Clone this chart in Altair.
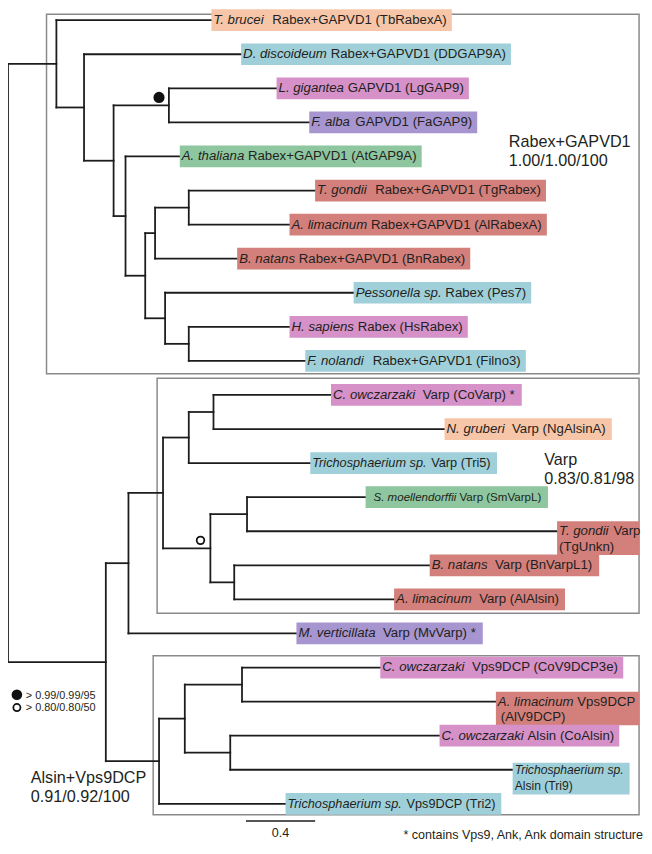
import altair as alt
import pandas as pd

# ---------------- data ----------------
# leaves, top to bottom
leaf_species = ["T. brucei", "D. discoideum", "L. gigantea", "F. alba", "A. thaliana",
                "T. gondii", "A. limacinum", "B. natans", "Pessonella sp.", "H. sapiens",
                "F. nolandi", "C. owczarzaki", "N. gruberi", "Trichosphaerium sp.",
                "S. moellendorffii", "T. gondii", "B. natans", "A. limacinum",
                "M. verticillata", "C. owczarzaki", "A. limacinum", "C. owczarzaki",
                "Trichosphaerium sp.", "Trichosphaerium sp."]
leaf_gene = ["Rabex+GAPVD1 (TbRabexA)", "Rabex+GAPVD1 (DDGAP9A)", "GAPVD1 (LgGAP9)",
             "GAPVD1 (FaGAP9)", "Rabex+GAPVD1 (AtGAP9A)", "Rabex+GAPVD1 (TgRabex)",
             "Rabex+GAPVD1 (AlRabexA)", "Rabex+GAPVD1 (BnRabex)", "Rabex (Pes7)",
             "Rabex (HsRabex)", "Rabex+GAPVD1 (Filno3)", "Varp (CoVarp) *", "Varp (NgAlsinA)",
             "Varp (Tri5)", "Varp (SmVarpL)", "Varp", "Varp (BnVarpL1)", "Varp (AlAlsin)",
             "Varp (MvVarp) *", "Vps9DCP (CoV9DCP3e)", "Vps9DCP", "Alsin (CoAlsin)", "",
             "Vps9DCP (Tri2)"]
leaf_gene_line2 = [""] * 15 + ["(TgUnkn)"] + [""] * 4 + ["(AlV9DCP)", "", "Alsin (Tri9)", ""]
leaf_group = ["Discoba", "Amoebozoa", "Holozoa", "Holomycota", "Archaeplastida",
              "SAR", "SAR", "SAR", "Amoebozoa", "Holozoa", "Amoebozoa",
              "Holozoa", "Discoba", "Amoebozoa", "Archaeplastida", "SAR", "SAR", "SAR",
              "Holomycota", "Holozoa", "SAR", "Holozoa", "Amoebozoa", "Amoebozoa"]
leaf_parent = ["A", "B", "D", "D", "E", "H", "H", "G", "I", "J", "J",
               "O", "O", "N", "Q", "Q", "R", "R", "L", "U", "U", "V", "V", "S"]
# distance from root (substitutions / site)
leaf_depth = [1.177, 1.349, 1.554, 1.743, 0.994, 1.777, 1.629, 1.326, 2.000, 1.629, 1.720,
              1.869, 2.526, 1.749, 2.069, 3.177, 2.440, 2.234, 1.669, 2.154, 2.823, 2.497,
              2.920, 1.606]

# internal nodes
node_names = ["root", "A", "B", "C", "D", "E", "F", "G", "H", "I", "J",
              "K", "L", "M", "N", "O", "P", "Q", "R", "S", "T", "U", "V"]
node_parent = [None, "root", "A", "B", "C", "C", "E", "F", "G", "F", "I",
               "root", "K", "L", "M", "N", "M", "P", "P", "K", "S", "T", "T"]
node_depth = [0.0, 0.280, 0.440, 0.611, 0.931, 0.680, 0.794, 0.851, 1.046, 0.909, 1.046,
              0.566, 0.697, 0.897, 1.046, 1.189, 1.171, 1.383, 1.309, 0.874, 1.023, 1.354, 1.286]

# support symbols
support_nodes = ["D", "P"]
support_level = ["> 0.99/0.99/95", "> 0.80/0.80/50"]

# clades
clade_names = ["Rabex+GAPVD1", "Varp", "Alsin+Vps9DCP"]
clade_support = ["1.00/1.00/100", "0.83/0.81/98", "0.91/0.92/100"]

group_domain = ["Discoba", "Amoebozoa", "Holozoa", "Holomycota", "Archaeplastida", "SAR"]
group_colors = ["#f7c6a9", "#9fd0da", "#d591c8", "#a795d0", "#8ec69f", "#d3807c"]

scale_bar_length = 0.4
footnote = "* contains Vps9, Ank, Ank domain structure"

# ---------------- layout helpers ----------------
W, H = 644, 846
PX = 175.0          # pixels per substitution unit
ROW = 34.5          # pixels per leaf row
Y0 = 7.0            # plot y of first leaf
FONT = "Liberation Sans"
INK = "#231f20"

XS = alt.Scale(domain=[0, W / PX], nice=False, zero=False)
YS = alt.Scale(domain=[-Y0 / ROW, (H - Y0) / ROW], nice=False, zero=False, reverse=True)

HELV = {' ': 278, '!': 278, '(': 333, ')': 333, '*': 389, '+': 584, ',': 278, '-': 333,
        '.': 278, '/': 278, '>': 584,
        'A': 667, 'B': 667, 'C': 722, 'D': 722, 'E': 667, 'F': 611, 'G': 778, 'H': 722,
        'I': 278, 'J': 500, 'K': 667, 'L': 556, 'M': 833, 'N': 722, 'O': 778, 'P': 667,
        'Q': 778, 'R': 722, 'S': 667, 'T': 611, 'U': 722, 'V': 667, 'W': 944, 'X': 667,
        'Y': 667, 'Z': 611,
        'a': 556, 'b': 556, 'c': 500, 'd': 556, 'e': 556, 'f': 278, 'g': 556, 'h': 556,
        'i': 222, 'j': 222, 'k': 500, 'l': 222, 'm': 833, 'n': 556, 'o': 556, 'p': 556,
        'q': 556, 'r': 333, 's': 500, 't': 278, 'u': 556, 'v': 500, 'w': 722, 'x': 500,
        'y': 500, 'z': 500}


def tw(s, fs):
    return sum(HELV.get(c, 556) for c in s) * fs / 1000.0


# per-label styling
font_size = {13: 12.9, 14: 11.7, 22: 12.3, 23: 12.9}
lead_px = {14: 8}
wide_gap = {0, 5, 10, 11, 12, 16, 17, 18, 19}
line2_indent = {20: 3}

# ---------------- tree geometry ----------------
children = {}
for name, par in zip(node_names, node_parent):
    if par is not None:
        children.setdefault(par, []).append(("n", name))
for i, par in enumerate(leaf_parent):
    children.setdefault(par, []).append(("l", i))
depth_of = dict(zip(node_names, node_depth))
ycache = {}


def ypos(kind, key):
    if kind == "l":
        return float(key)
    if key in ycache:
        return ycache[key]
    ys = [ypos(k, c) for k, c in children[key]]
    ycache[key] = (min(ys) + max(ys)) / 2.0
    return ycache[key]


segs = []
for name in node_names:
    ys = [ypos(k, c) for k, c in children[name]]
    segs.append(dict(x=depth_of[name], x2=depth_of[name], y=min(ys), y2=max(ys)))
for name, par in zip(node_names, node_parent):
    if par is not None:
        yy = ypos("n", name)
        segs.append(dict(x=depth_of[par], x2=depth_of[name], y=yy, y2=yy))
for i, par in enumerate(leaf_parent):
    segs.append(dict(x=depth_of[par], x2=leaf_depth[i], y=float(i), y2=float(i)))
seg_df = pd.DataFrame(segs)

BOX_R = (645 - 6) / PX
txt_it, txt_rg, rects = [], [], []
for i in range(len(leaf_species)):
    fs = font_size.get(i, 13.4)
    d = leaf_depth[i]
    x0 = d + lead_px.get(i, 2) / PX
    sp = "  " if i in wide_gap else " "
    w_it = tw(leaf_species[i], fs)
    txt_it.append(dict(x=x0, y=float(i), t=leaf_species[i], fs=fs))
    end = lead_px.get(i, 2) + w_it
    if leaf_gene[i]:
        xr = x0 + (w_it + tw(sp, fs)) / PX
        txt_rg.append(dict(x=xr, y=float(i), t=leaf_gene[i], fs=fs))
        end += tw(sp, fs) + tw(leaf_gene[i], fs)
    two = bool(leaf_gene_line2[i])
    if two:
        gap = 17 if i == 22 else 16
        x2l = x0 + line2_indent.get(i, 0) / PX
        txt_rg.append(dict(x=x2l, y=i + gap / ROW, t=leaf_gene_line2[i], fs=fs))
        end = max(end, lead_px.get(i, 2) + line2_indent.get(i, 0) + tw(leaf_gene_line2[i], fs))
        top, bot = (7 if i == 22 else 10), gap + 8
    else:
        top, bot = 11, 11
    rects.append(dict(x=d, x2=min(d + (end + 5) / PX, BOX_R), y=i - top / ROW,
                      y2=i + bot / ROW, g=leaf_group[i]))
it_df = pd.DataFrame(txt_it)
rg_df = pd.DataFrame(txt_rg)
rect_df = pd.DataFrame(rects)

# clade boxes (anchored on first / last leaf rows)
clade_box_df = pd.DataFrame([
    dict(x=(45 - 6) / PX, x2=BOX_R, y=-6 / ROW + (-0.0), y2=10 + 13 / ROW),
    dict(x=(157 - 6) / PX, x2=BOX_R, y=11 - 17 / ROW, y2=17 + 14 / ROW),
    dict(x=(153 - 6) / PX, x2=BOX_R, y=19 - 12 / ROW, y2=23 + 11 / ROW),
])
clade_box_df.loc[0, "y"] = -Y0 / ROW + 1.0 / ROW

sup_df = pd.DataFrame([dict(x=depth_of[n] - 10 / PX, y=ypos("n", n) - 8 / ROW, lvl=l)
                       for n, l in zip(support_nodes, support_level)])

sb_x = (247 - 6) / PX
sb_y = (826 - 15) / ROW
sb_df = pd.DataFrame([dict(x=sb_x, x2=sb_x + scale_bar_length, y=sb_y,
                           xm=sb_x + scale_bar_length / 2, lab=str(scale_bar_length))])


def X(f):
    return alt.X(f"{f}:Q", scale=XS, axis=None)


def Y(f):
    return alt.Y(f"{f}:Q", scale=YS, axis=None)


# ---------------- layers ----------------
boxes = alt.Chart(clade_box_df).mark_rect(fill=None, stroke="#8a8a8a", strokeWidth=1.5).encode(
    x=X("x"), x2="x2", y=Y("y"), y2="y2")

lab_rects = alt.Chart(rect_df).mark_rect(strokeWidth=0).encode(
    x=X("x"), x2="x2", y=Y("y"), y2="y2",
    color=alt.Color("g:N", scale=alt.Scale(domain=group_domain, range=group_colors), legend=None))

tree = alt.Chart(seg_df).mark_rule(color="#1c1c1c", strokeWidth=1.8, strokeCap="square").encode(
    x=X("x"), x2="x2", y=Y("y"), y2="y2")

t_it = alt.Chart(it_df).mark_text(align="left", baseline="middle", font=FONT, fontStyle="italic",
                                  color=INK).encode(
    x=X("x"), y=Y("y"), text="t:N", size=alt.Size("fs:Q", scale=None, legend=None))
t_rg = alt.Chart(rg_df).mark_text(align="left", baseline="middle", font=FONT, color=INK).encode(
    x=X("x"), y=Y("y"), text="t:N", size=alt.Size("fs:Q", scale=None, legend=None))

sup = alt.Chart(sup_df).mark_point(shape="circle", filled=True, strokeWidth=1.8, opacity=1).encode(
    x=X("x"), y=Y("y"),
    fill=alt.Fill("lvl:N", scale=alt.Scale(domain=support_level, range=["#111111", "#ffffff"]), legend=None),
    stroke=alt.value("#111111"),
    size=alt.Size("lvl:N", scale=alt.Scale(domain=support_level, range=[90, 60]), legend=None))

sbar = alt.Chart(sb_df).mark_rule(color="#1c1c1c", strokeWidth=1.5).encode(
    x=X("x"), x2="x2", y=Y("y"))
sbar_lab = alt.Chart(sb_df).mark_text(align="center", baseline="alphabetic", font=FONT, fontSize=12.7,
                                      color=INK).encode(x=X("xm"), y=alt.value(834), text="lab:N")

clade_pos = [(507, 135), (543, 457), (23, 779)]
clade_layers = []
for (cx, cy), nm, s in zip(clade_pos, clade_names, clade_support):
    for k, t in enumerate([nm, s]):
        clade_layers.append(alt.Chart(sb_df).mark_text(
            align="left", baseline="alphabetic", font=FONT, fontSize=16.4, color=INK).encode(
            x=alt.value(cx), y=alt.value(cy + 20 * k), text=alt.value(t)))

legend_layers = []
for k, lvl in enumerate(support_level):
    legend_layers.append(alt.Chart(sb_df).mark_point(
        shape="circle", filled=True, fill="#111111" if k == 0 else "#ffffff",
        stroke="#111111", strokeWidth=1.8, size=80 if k == 0 else 52, opacity=1).encode(
        x=alt.value(9), y=alt.value(690 + 13 * k)))
    legend_layers.append(alt.Chart(sb_df).mark_text(
        align="left", baseline="alphabetic", font=FONT, fontSize=11, color=INK).encode(
        x=alt.value(18), y=alt.value(694 + 13 * k), text=alt.value(lvl)))

foot = alt.Chart(sb_df).mark_text(align="right", baseline="alphabetic", font=FONT, fontSize=12.7,
                                  color=INK).encode(x=alt.value(643), y=alt.value(836),
                                                    text=alt.value(footnote))

chart = alt.layer(boxes, tree, lab_rects, t_it, t_rg, sup, sbar, sbar_lab,
                  *clade_layers, *legend_layers, foot).properties(
    width=W, height=H, padding=0, autosize=alt.AutoSizeParams(type="none")
).configure_view(strokeWidth=0)

chart.save("out.html", embed_options={"renderer": "svg", "actions": False})
